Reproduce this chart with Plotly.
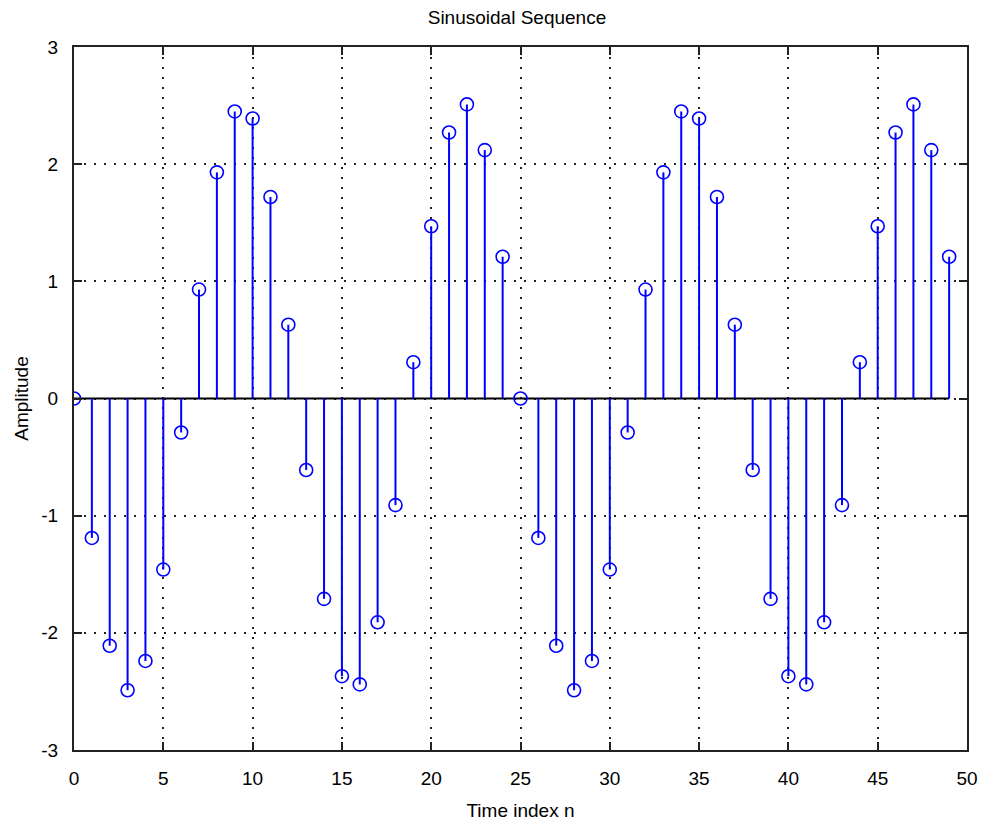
import plotly.graph_objects as go

# Sample index and sequence amplitudes
n = list(range(50))
amplitude = [
    0.00, -1.19, -2.11, -2.49, -2.24, -1.46, -0.29, 0.93, 1.93, 2.45,
    2.39, 1.72, 0.63, -0.61, -1.71, -2.37, -2.44, -1.91, -0.91, 0.31,
    1.47, 2.27, 2.51, 2.12, 1.21, 0.00, -1.19, -2.11, -2.49, -2.24,
    -1.46, -0.29, 0.93, 1.93, 2.45, 2.39, 1.72, 0.63, -0.61, -1.71,
    -2.37, -2.44, -1.91, -0.91, 0.31, 1.47, 2.27, 2.51, 2.12, 1.21,
]

x_ticks = [0, 5, 10, 15, 20, 25, 30, 35, 40, 45, 50]
y_ticks = [-3, -2, -1, 0, 1, 2, 3]

BLUE = "#0000ff"
FONT = "Liberation Sans, Arial, sans-serif"
FSIZE = 19

# Stems: one vertical segment per sample, separated by gaps
stem_x, stem_y = [], []
for xi, yi in zip(n, amplitude):
    stem_x += [xi, xi, None]
    stem_y += [0, yi, None]

fig = go.Figure()

# Zero baseline across the sample range
fig.add_trace(go.Scatter(
    x=[n[0], n[-1]], y=[0, 0], mode="lines",
    line=dict(color="black", width=2), hoverinfo="skip",
))

fig.add_trace(go.Scatter(
    x=stem_x, y=stem_y, mode="lines",
    line=dict(color=BLUE, width=2), hoverinfo="skip",
))

fig.add_trace(go.Scatter(
    x=n, y=amplitude, mode="markers",
    marker=dict(symbol="circle-open", size=13, color=BLUE,
                line=dict(color=BLUE, width=1.6)),
))

axis_common = dict(
    automargin=False,
    showline=True, linecolor="#222", linewidth=2, mirror="ticks",
    ticks="inside", ticklen=8, tickcolor="#222", tickwidth=2,
    showgrid=True, gridcolor="#222", gridwidth=1.6, griddash="1.6px,8.4px",
    zeroline=False, tickfont=dict(family=FONT, size=FSIZE, color="black"),
)

fig.update_xaxes(
    range=[0, 50], tickvals=x_ticks, ticktext=[str(v) for v in x_ticks],
    title=dict(text="Time index n", font=dict(family=FONT, size=FSIZE, color="black"), standoff=16),
    ticklabelstandoff=10, **axis_common,
)
fig.update_yaxes(
    range=[-3, 3], tickvals=y_ticks, ticktext=[str(v) for v in y_ticks],
    title=dict(text="Amplitude", font=dict(family=FONT, size=FSIZE, color="black"), standoff=8),
    ticklabelstandoff=10, **axis_common,
)

fig.update_layout(
    width=981, height=822,
    margin=dict(l=74, r=14, t=47, b=72),
    paper_bgcolor="white", plot_bgcolor="white",
    showlegend=False,
    title=dict(text="Sinusoidal Sequence", x=0.527, xanchor="center",
               y=0.979, yanchor="middle",
               font=dict(family=FONT, size=FSIZE, color="black")),
)

fig.write_html("out.html")
